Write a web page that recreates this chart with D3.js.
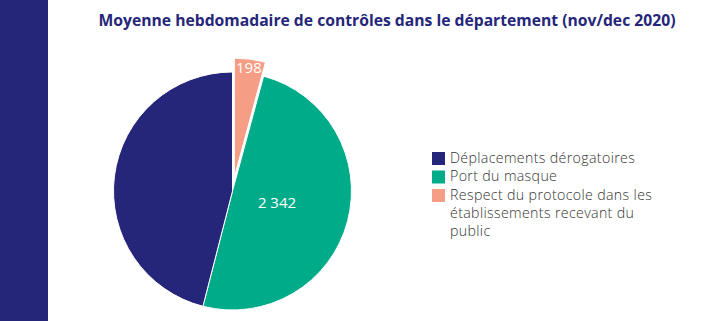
<!DOCTYPE html>
<html lang="fr">
<head>
<meta charset="utf-8">
<title>Moyenne hebdomadaire de contrôles</title>
<script src="https://d3js.org/d3.v7.min.js"></script>
<style type="text/css">
  body { margin: 0; background: #fff; }
  svg text { font-family: "Open Sans", "Noto Sans", sans-serif; }
</style>
</head>
<body>
<div id="chart"></div>
<script>
  // weekly average of checks, legend order
  const categories = ["Déplacements dérogatoires", "Port du masque", "Respect du protocole dans les établissements recevant du public"];
  const legendLines = [["Déplacements dérogatoires"], ["Port du masque"], ["Respect du protocole dans les", "établissements recevant du", "public"]];
  const values = [2164, 2342, 198];
  const valueLabels = [null, "2 342", "198"];
  const colors = ["#25267a", "#00ab8a", "#f59e85"];
  // slices go clockwise from 12 o'clock in this order
  const sliceOrder = [2, 1, 0];

  const W = 703, H = 321;
  const svg = d3.select("#chart").append("svg")
      .attr("width", W).attr("height", H);

  svg.append("rect").attr("x", 0).attr("y", 0)
      .attr("width", 48).attr("height", H).attr("fill", "#25267a");

  svg.append("text")
      .attr("x", 387).attr("y", 26)
      .attr("text-anchor", "middle")
      .attr("font-size", 15.7).attr("font-weight", 700)
      .attr("fill", "#25267a")
      .text("Moyenne hebdomadaire de contrôles dans le département (nov/dec 2020)");

  const cx = 232.5, cy = 191, r = 119;
  const pie = d3.pie().sort(null).value(i => values[i]);
  const arcs = pie(sliceOrder);
  const arc = d3.arc().innerRadius(0).outerRadius(r);

  const g = svg.append("g").attr("transform", `translate(${cx},${cy})`);

  function offset(d) {
    // the small slice is pulled out from the pie
    if (d.data !== 2) return [0, 0];
    const a = (d.startAngle + d.endAngle) / 2;
    return [14 * Math.sin(a), -14 * Math.cos(a)];
  }

  g.selectAll("path").data(arcs).enter().append("path")
      .attr("d", arc)
      .attr("transform", d => `translate(${offset(d)})`)
      .attr("fill", d => colors[d.data])
      .attr("stroke", "#fff").attr("stroke-width", 1);

  g.selectAll("text.val").data(arcs.filter(d => valueLabels[d.data])).enter().append("text")
      .attr("class", "val")
      .attr("transform", d => {
        const a = (d.startAngle + d.endAngle) / 2;
        const o = offset(d);
        const lr = d.data === 2 ? 110 : 46;
        return `translate(${o[0] + lr * Math.sin(a)},${o[1] - lr * Math.cos(a)})`;
      })
      .attr("dy", "0.36em")
      .attr("text-anchor", "middle")
      .attr("font-size", 15).attr("fill", "#fff")
      .text(d => valueLabels[d.data]);

  const legend = svg.append("g").attr("transform", "translate(432,152)");
  const rowY = [0, 18.5, 37];
  categories.forEach((c, i) => {
    legend.append("rect").attr("x", 0).attr("y", rowY[i])
        .attr("width", 13).attr("height", 13).attr("fill", colors[i]);
    const t = legend.append("text").attr("x", 18).attr("y", rowY[i] + 10.5)
        .attr("font-size", 14.2).attr("font-weight", 300)
        .attr("letter-spacing", 0.35).attr("fill", "#333");
    legendLines[i].forEach((l, j) => {
      t.append("tspan").attr("x", 18).attr("dy", j === 0 ? 0 : 18).text(l);
    });
  });
</script>
</body>
</html>
